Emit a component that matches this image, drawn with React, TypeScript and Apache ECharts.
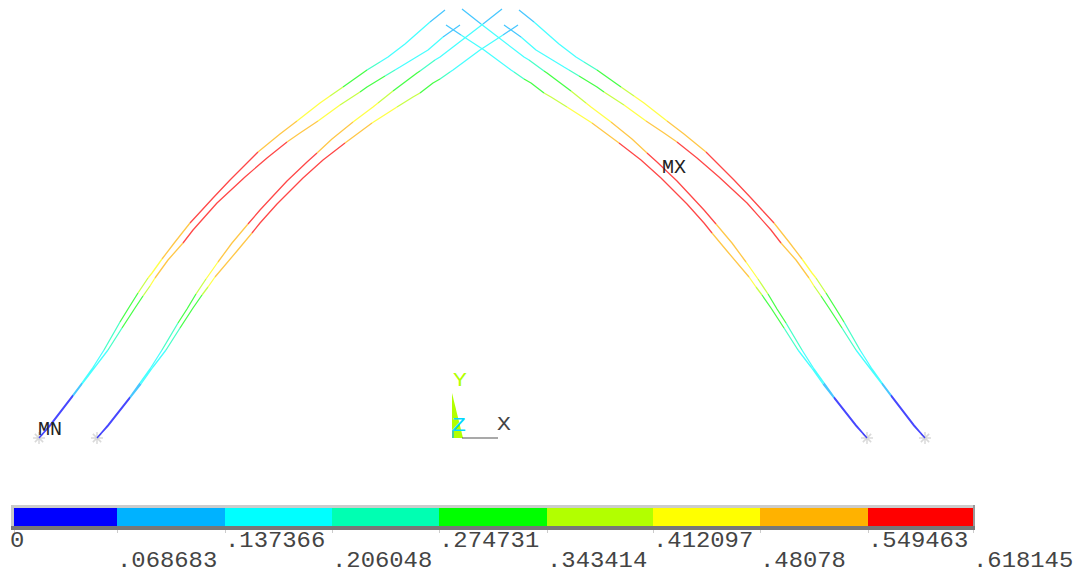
import React, { useEffect, useRef } from "react";
import * as echarts from "echarts";

type V = [number, number, number];

// Contour levels and colours
const levelLabels = ["0", ".068683", ".137366", ".206048", ".274731", ".343414", ".412097", ".48078", ".549463", ".618145"];
const levelEdges = [14, 117, 225, 332, 439, 547, 653, 760, 868, 973];
const bandColors = ["#0000ff", "#00b2ff", "#00ffff", "#00ffb2", "#00ff00", "#b2ff00", "#ffff00", "#ffb200", "#ff0000"];
const levelStep = 0.618145 / 9;

// Member edges: [x, y, value]; the value colours the stretch that follows the vertex.
const leftOuterUpper: V[] = [[39,438,.03],[50,425,.03],[73,395,.10],[82,383,.17],[92,369,.17],[104,350,.24],[120,322,.31],[128,309,.31],[138,293,.38],[148,278,.45],[152,273,.45],[162,259,.52],[175,242,.52],[190,223,.58],[202,210,.58],[213,198,.58],[230,180,.58],[247,163,.58],[258,152,.52],[280,134,.52],[297,121,.45],[320,103,.45],[330,96,.38],[343,87,.31],[367,70,.24],[380,62,.17],[388,57,.17],[405,44,.17],[430,22,.10],[445,10,.10]];
const leftOuterLower: V[] = [[39,438,.03],[50,426,.03],[73,396,.10],[82,384,.17],[95,367,.17],[108,350,.24],[122,328,.31],[135,308,.31],[143,296,.38],[150,286,.45],[155,278,.52],[168,260,.52],[183,243,.58],[193,230,.58],[217,203,.58],[245,177,.58],[267,158,.58],[287,142,.52],[300,133,.52],[318,121,.45],[340,105,.38],[360,92,.31],[367,87,.31],[385,76,.24],[395,70,.17],[400,67,.17],[428,50,.17],[443,37,.10],[460,25,.10]];
const leftInnerUpper: V[] = [[97,438,.03],[108,425,.03],[130,397,.10],[140,383,.17],[150,369,.17],[162,350,.24],[178,323,.31],[187,309,.31],[196,294,.38],[206,279,.45],[218,262,.52],[232,243,.52],[248,224,.58],[260,210,.58],[273,196,.58],[287,181,.58],[307,162,.58],[317,153,.52],[332,139,.52],[353,122,.45],[373,107,.45],[378,103,.38],[393,91,.31],[417,73,.31],[420,71,.24],[435,60,.17],[440,57,.17],[483,24,.10],[502,9,.10]];
const leftInnerLower: V[] = [[97,438,.03],[108,426,.03],[130,398,.10],[141,384,.17],[153,367,.17],[166,350,.24],[180,328,.31],[193,308,.31],[202,295,.38],[208,287,.45],[215,277,.52],[237,251,.52],[252,233,.58],[260,223,.58],[277,204,.58],[303,178,.58],[323,160,.58],[345,143,.52],[372,123,.45],[397,107,.38],[413,97,.38],[420,93,.31],[433,83,.31],[440,79,.24],[450,72,.17],[453,70,.17],[480,50,.17],[503,35,.10],[518,25,.10]];
const rightOuterUpper: V[] = [[925,438,.03],[914,425,.03],[891,395,.10],[882,383,.17],[872,369,.17],[860,350,.24],[844,322,.31],[836,309,.31],[826,293,.38],[816,278,.45],[812,273,.45],[802,259,.52],[789,242,.52],[774,223,.58],[762,210,.58],[751,198,.58],[734,180,.58],[717,163,.58],[706,152,.52],[684,134,.52],[667,121,.45],[644,103,.45],[634,96,.38],[621,87,.31],[597,70,.24],[584,62,.17],[576,57,.17],[559,44,.17],[534,22,.10],[519,10,.10]];
const rightOuterLower: V[] = [[925,438,.03],[914,426,.03],[891,396,.10],[882,384,.17],[869,367,.17],[856,350,.24],[842,328,.31],[829,308,.31],[821,296,.38],[814,286,.45],[809,278,.52],[796,260,.52],[781,243,.58],[771,230,.58],[747,203,.58],[719,177,.58],[697,158,.58],[677,142,.52],[664,133,.52],[646,121,.45],[624,105,.38],[604,92,.31],[597,87,.31],[579,76,.24],[569,70,.17],[564,67,.17],[536,50,.17],[521,37,.10],[504,25,.10]];
const rightInnerUpper: V[] = [[867,438,.03],[856,425,.03],[834,397,.10],[824,383,.17],[814,369,.17],[802,350,.24],[786,323,.31],[777,309,.31],[768,294,.38],[758,279,.45],[746,262,.52],[732,243,.52],[716,224,.58],[704,210,.58],[691,196,.58],[677,181,.58],[657,162,.58],[647,153,.52],[632,139,.52],[611,122,.45],[591,107,.45],[586,103,.38],[571,91,.31],[547,73,.31],[544,71,.24],[529,60,.17],[524,57,.17],[481,24,.10],[462,9,.10]];
const rightInnerLower: V[] = [[867,438,.03],[856,426,.03],[834,398,.10],[823,384,.17],[811,367,.17],[798,350,.24],[784,328,.31],[771,308,.31],[762,295,.38],[756,287,.45],[749,277,.52],[727,251,.52],[712,233,.58],[704,223,.58],[687,204,.58],[661,178,.58],[641,160,.58],[619,143,.52],[592,123,.45],[567,107,.38],[551,97,.38],[544,93,.31],[531,83,.31],[524,79,.24],[514,72,.17],[511,70,.17],[484,50,.17],[461,35,.10],[446,25,.10]];
const curves = [leftOuterUpper, leftOuterLower, leftInnerUpper, leftInnerLower, rightOuterUpper, rightOuterLower, rightInnerUpper, rightInnerLower];

const supports: [number, number][] = [[39,438],[97,438],[867,438],[925,438]];
const nodeLabels: { text: string; at: [number, number] }[] = [
  { text: "MN", at: [38, 429] },
  { text: "MX", at: [662, 167] },
];
const triadX: [number, number][] = [[462,438],[498,438]];
const triadYWedge = [[452,393],[463,438],[452,438]];
const triadZStem: [number, number][] = [[453,430],[453,438]];
const triadLabels: { text: string; at: [number, number]; color: string }[] = [
  { text: "Y", at: [453, 381], color: "#b2ff00" },
  { text: "Z", at: [452, 426], color: "#00d8ff" },
  { text: "X", at: [497, 425], color: "#444444" },
];

const bandOf = (v: number) => Math.min(8, Math.max(0, Math.floor(v / levelStep)));

function seriesForBands() {
  const byBand: (number | string)[][][] = bandColors.map(() => []);
  curves.forEach((c) => {
    for (let i = 0; i < c.length - 1; i++) {
      const k = bandOf(c[i][2]);
      const list = byBand[k];
      const prevSame = i > 0 && bandOf(c[i - 1][2]) === k;
      if (!prevSame) list.push([c[i][0], c[i][1]]);
      list.push([c[i + 1][0], c[i + 1][1]]);
      const nextSame = i + 1 < c.length - 1 && bandOf(c[i + 1][2]) === k;
      if (!nextSame) list.push(["-", "-"]);
    }
  });
  return byBand.map((data, k) => ({
    type: "line" as const,
    name: "band" + k,
    data,
    showSymbol: false,
    symbol: "none",
    silent: true,
    connectNulls: false,
    lineStyle: { color: bandColors[k], width: 1.3, opacity: 0.72 },
  }));
}

const mono = "'Liberation Mono', monospace";
const asterisk = "path://M4.4 0h1.2v10h-1.2zM0 4.4h10v1.2H0zM1.1 2l.9-.9 6.9 6.9-.9.9zM8 1.1l.9.9-6.9 6.9-.9-.9z";

export default function App() {
  const ref = useRef<HTMLDivElement>(null);
  useEffect(() => {
    const chart = echarts.init(ref.current!, undefined, { renderer: "svg" });
    const textSeries = (data: any[], size: number, stretch: number, color: (d: any) => string) => ({
      type: "custom" as const,
      silent: true,
      coordinateSystem: "cartesian2d",
      z: 8,
      data: data.map((d, i) => [d.x, d.y, i]),
      renderItem: (_p: any, api: any) => {
        const d = data[api.value(2)];
        const pt = api.coord([d.x, d.y]);
        return {
          type: "text",
          x: pt[0],
          y: pt[1],
          scaleX: stretch,
          style: { text: d.text, fill: color(d), font: `${size}px ${mono}`, textAlign: "left", textVerticalAlign: "middle" },
        };
      },
    });
    chart.setOption({
      animation: false,
      backgroundColor: "#ffffff",
      grid: { left: 0, right: 0, top: 0, bottom: 0 },
      xAxis: { type: "value", min: 0, max: 1076, show: false },
      yAxis: { type: "value", min: 0, max: 575, inverse: true, show: false },
      graphic: [
        { type: "rect", shape: { x: 11, y: 505, width: 964, height: 3 }, style: { fill: "#cccccc" }, z: 5 },
        { type: "rect", shape: { x: 11, y: 505, width: 3, height: 25 }, style: { fill: "#c8c8c8" }, z: 5 },
        { type: "rect", shape: { x: 973, y: 505, width: 2, height: 25 }, style: { fill: "#999999" }, z: 5 },
        { type: "rect", shape: { x: 11, y: 526, width: 964, height: 4 }, style: { fill: "#777777" }, z: 5 },
        { type: "polygon", shape: { points: triadYWedge }, style: { fill: "#b2ff00" }, z: 0 },
      ],
      series: [
        ...seriesForBands(),
        {
          type: "scatter",
          data: supports,
          symbol: asterisk,
          symbolSize: 12,
          silent: true,
          itemStyle: { color: "#cfcfcf" },
          z: 1,
        },
        {
          type: "line",
          data: triadX,
          symbol: "none",
          silent: true,
          lineStyle: { color: "#555555", width: 1.2 },
        },
        {
          type: "line",
          data: triadZStem,
          symbol: "none",
          silent: true,
          lineStyle: { color: "#00b2ff", width: 1.2 },
          z: 6,
        },
        {
          type: "custom",
          coordinateSystem: "cartesian2d",
          silent: true,
          data: bandColors.map((_, i) => [levelEdges[i], levelEdges[i + 1], i]),
          encode: { x: [0, 1] },
          renderItem: (_p: any, api: any) => {
            const a = api.coord([api.value(0), 508]);
            const b = api.coord([api.value(1), 526]);
            return {
              type: "rect",
              shape: { x: a[0], y: a[1], width: b[0] - a[0], height: b[1] - a[1] },
              style: { fill: bandColors[api.value(2)] },
            };
          },
        },
        {
          type: "custom",
          coordinateSystem: "cartesian2d",
          silent: true,
          data: levelEdges.map((e) => [e]),
          renderItem: (_p: any, api: any) => {
            const a = api.coord([api.value(0), 530]);
            const b = api.coord([api.value(0), 533]);
            return {
              type: "line",
              shape: { x1: a[0] + 0.5, y1: a[1], x2: b[0] + 0.5, y2: b[1] },
              style: { stroke: "#cccccc", lineWidth: 1 },
            };
          },
        },
        textSeries(
          levelLabels.map((text, i) => ({
            text,
            x: i === 0 ? 10 : levelEdges[i],
            y: i % 2 === 0 ? 541 : 561,
          })),
          22,
          1.085,
          () => "#444444",
        ),
        textSeries(
          nodeLabels.map((n) => ({ text: n.text, x: n.at[0], y: n.at[1] })),
          20,
          1,
          () => "#222222",
        ),
        textSeries(
          triadLabels.map((n) => ({ text: n.text, x: n.at[0], y: n.at[1], color: n.color })),
          21,
          1.1,
          (d) => d.color,
        ),
      ],
    });
    return () => chart.dispose();
  }, []);
  return <div ref={ref} style={{ position: "fixed", left: 0, top: 0, width: 1076, height: 575 }} />;
}
